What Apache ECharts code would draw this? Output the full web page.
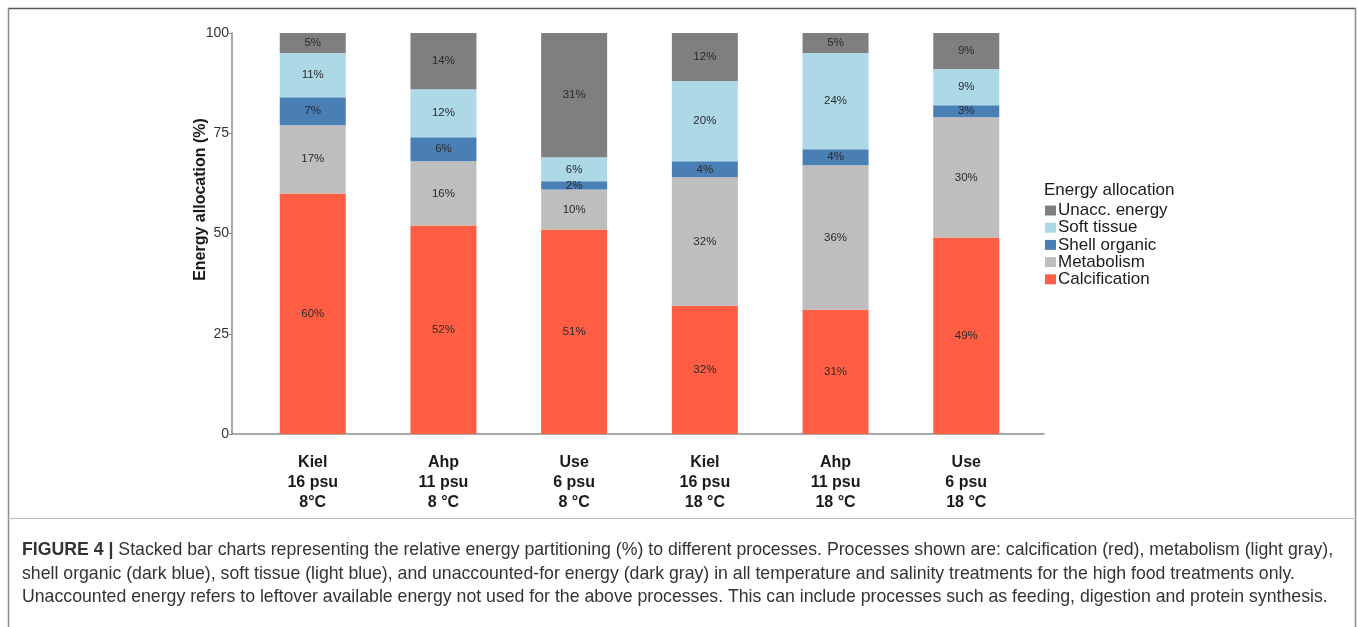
<!DOCTYPE html>
<html>
<head>
<meta charset="utf-8">
<title>Energy allocation</title>
<script src="https://cdn.jsdelivr.net/npm/echarts@6/dist/echarts.min.js"></script>
<style>
  html, body { margin: 0; padding: 0; background: #ffffff; }
  #chart { width: 1358px; height: 627px; }
</style>
</head>
<body>
<div id="chart"></div>
<script>
// Treatments (site / salinity / temperature)
const categories = [
  'Kiel\n16 psu\n8°C',
  'Ahp\n11 psu\n8 °C',
  'Use\n6 psu\n8 °C',
  'Kiel\n16 psu\n18 °C',
  'Ahp\n11 psu\n18 °C',
  'Use\n6 psu\n18 °C'
];

// Share of energy (%) per process, one value per treatment
const calcification = [60, 52, 51, 32, 31, 49];
const metabolism    = [17, 16, 10, 32, 36, 30];
const shellOrganic  = [7, 6, 2, 4, 4, 3];
const softTissue    = [11, 12, 6, 20, 24, 9];
const unaccEnergy   = [5, 14, 31, 12, 5, 9];

const yTicks = [0, 25, 50, 75, 100];

const seriesDefs = [
  { name: 'Calcification', values: calcification, color: '#FF5E45' },
  { name: 'Metabolism',    values: metabolism,    color: '#BEBEBE' },
  { name: 'Shell organic', values: shellOrganic,  color: '#4A7FB5' },
  { name: 'Soft tissue',   values: softTissue,    color: '#ADD8E6' },
  { name: 'Unacc. energy', values: unaccEnergy,   color: '#7F7F7F' }
];

const FONT = 'Liberation Sans, Arial, sans-serif';
const AXIS_GREY = '#8c8c8c';

const chart = echarts.init(document.getElementById('chart'), null, { renderer: 'canvas' });

const option = {
  animation: false,
  backgroundColor: '#ffffff',
  textStyle: { fontFamily: FONT },
  grid: [
    // bar panel (category bands)
    { left: 247.4, top: 33, width: 784.2, height: 401 },
    // full panel extent, carries the bottom axis line
    { left: 232, top: 33, width: 812, height: 401 }
  ],
  xAxis: [
    {
      type: 'category',
      gridIndex: 0,
      data: categories,
      axisLine: { show: false },
      axisTick: { show: false },
      axisLabel: {
        color: '#1a1a1a',
        fontSize: 16,
        fontWeight: 'bold',
        lineHeight: 20,
        margin: 19,
        verticalAlign: 'top'
      }
    },
    {
      type: 'value',
      gridIndex: 1,
      min: 0,
      max: 1,
      splitLine: { show: false },
      axisTick: { show: false },
      axisLabel: { show: false },
      axisLine: { show: true, onZero: false, lineStyle: { color: AXIS_GREY, width: 1.5 } }
    }
  ],
  yAxis: [
    {
      type: 'value',
      gridIndex: 0,
      min: 0,
      max: 100,
      interval: 25,
      offset: 15.4,
      name: 'Energy allocation (%)',
      nameLocation: 'middle',
      nameGap: 23,
      nameMoveOverlap: false,
      nameRotate: 90,
      nameTextStyle: { fontSize: 16, fontWeight: 'bold', color: '#1a1a1a', padding: [0, 0, 0, 68] },
      splitLine: { show: false },
      axisLine: { show: true, onZero: false, lineStyle: { color: AXIS_GREY, width: 1.5 } },
      axisTick: { show: true, length: 3, lineStyle: { color: AXIS_GREY } },
      axisLabel: {
        customValues: yTicks,
        color: '#333333',
        fontSize: 14,
        margin: 3
      }
    },
    {
      type: 'value',
      gridIndex: 1,
      min: 0,
      max: 1,
      show: false
    }
  ],
  legend: {
    orient: 'vertical',
    left: 1045,
    top: 202,
    padding: 0,
    itemWidth: 11,
    itemHeight: 10,
    itemGap: 0.2,
    icon: 'rect',
    data: ['Unacc. energy', 'Soft tissue', 'Shell organic', 'Metabolism', 'Calcification'],
    textStyle: { fontSize: 17, color: '#1a1a1a', lineHeight: 15, padding: [0, 0, 0, -3] }
  },
  series: seriesDefs.map(s => ({
    name: s.name,
    type: 'bar',
    xAxisIndex: 0,
    yAxisIndex: 0,
    stack: 'energy',
    barWidth: 66,
    itemStyle: { color: s.color },
    label: {
      show: true,
      position: 'inside',
      formatter: p => p.value + '%',
      color: '#2b2b2b',
      fontSize: 11.5
    },
    data: s.values
  })),
  graphic: [
    // outer frame
    { type: 'line', shape: { x1: 8, y1: 8.5, x2: 1356, y2: 8.5 }, style: { stroke: '#555555', lineWidth: 1.5 } },
    { type: 'line', shape: { x1: 8.5, y1: 8, x2: 8.5, y2: 627 }, style: { stroke: '#8a8a8a', lineWidth: 1.5 } },
    { type: 'line', shape: { x1: 1355.5, y1: 8, x2: 1355.5, y2: 627 }, style: { stroke: '#8a8a8a', lineWidth: 1.5 } },
    { type: 'line', shape: { x1: 8, y1: 518.5, x2: 1356, y2: 518.5 }, style: { stroke: '#bbbbbb', lineWidth: 1 } },
    // legend heading
    {
      type: 'text', left: 1044, top: 182,
      style: { text: 'Energy allocation', font: '17px ' + FONT, fill: '#1a1a1a' }
    },
    // caption
    {
      type: 'text', left: 22, top: 541,
      style: {
        text: '{b|FIGURE 4 |} Stacked bar charts representing the relative energy partitioning (%) to different processes. Processes shown are: calcification (red), metabolism (light gray),',
        font: '17.7px ' + FONT, fill: '#333333',
        rich: { b: { fontWeight: 'bold', fontSize: 17.7, fill: '#333333' } }
      }
    },
    {
      type: 'text', left: 22, top: 565,
      style: {
        text: 'shell organic (dark blue), soft tissue (light blue), and unaccounted-for energy (dark gray) in all temperature and salinity treatments for the high food treatments only.',
        font: '17.7px ' + FONT, fill: '#333333'
      }
    },
    {
      type: 'text', left: 22, top: 588,
      style: {
        text: 'Unaccounted energy refers to leftover available energy not used for the above processes. This can include processes such as feeding, digestion and protein synthesis.',
        font: '17.7px ' + FONT, fill: '#333333'
      }
    }
  ]
};

chart.setOption(option);
</script>
</body>
</html>
